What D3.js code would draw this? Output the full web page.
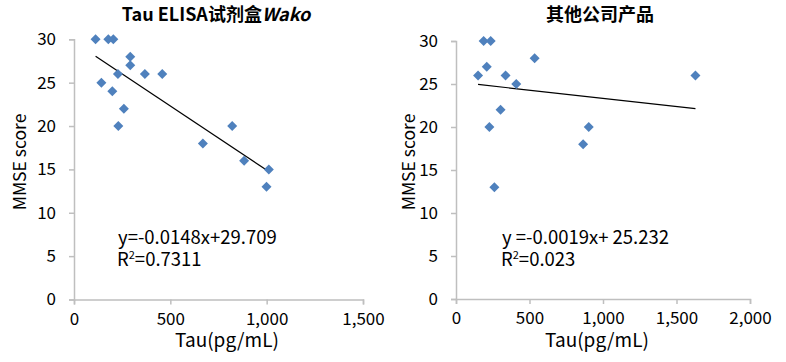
<!DOCTYPE html>
<html>
<head>
<meta charset="utf-8">
<script src="https://cdn.jsdelivr.net/npm/d3@7"></script>
<style>
  body { margin: 0; background: #fff; }
  svg { font-family: "Noto Sans CJK SC", "Noto Sans", sans-serif; }
  .tick text { font-size: 17px; fill: #000; }
  .axis-label { font-size: 19px; fill: #000; }
  .y-label { font-size: 17.5px; fill: #000; }
  .eq { font-size: 18.5px; fill: #000; }
  .title { font-size: 18px; font-weight: bold; fill: #000; }
</style>
</head>
<body>
<svg width="786" height="362"></svg>
<script>
  // left panel: Tau ELISA kit Wako
  const leftTau  = [112, 178, 204, 142, 199, 228, 292, 292, 259, 230, 368, 458, 669, 821, 883, 1011, 999];
  const leftMmse = [30, 30, 30, 25, 24, 26, 28, 27, 22, 20, 26, 26, 18, 20, 16, 15, 13];
  const leftXTicks = [0, 500, 1000, 1500];

  // right panel: other companies
  const rightTau  = [150, 188, 236, 209, 227, 303, 337, 410, 535, 261, 865, 903, 1629];
  const rightMmse = [26, 30, 30, 27, 20, 22, 26, 25, 28, 13, 18, 20, 26];
  const rightXTicks = [0, 500, 1000, 1500, 2000];

  const yTicks = [0, 5, 10, 15, 20, 25, 30];

  const svg = d3.select('svg');
  const axisColor = '#bfbfbf';
  const markColor = '#4f81bd';

  const drawPanel = p => {
    const xScale = d3.scaleLinear()
      .domain([0, p.xMax])
      .range([p.left, p.right]);
    const yScale = d3.scaleLinear()
      .domain([0, 30])
      .range([p.bottom, p.top]);

    const g = svg.append('g');

    const xAxisG = g.append('g')
      .attr('transform', `translate(0, ${p.bottom})`)
      .call(d3.axisBottom(xScale)
        .tickValues(p.xTicks)
        .tickFormat(d3.format(','))
        .tickSizeOuter(0)
        .tickSize(5)
        .tickPadding(8));

    const yAxisG = g.append('g')
      .attr('transform', `translate(${p.left}, 0)`)
      .call(d3.axisLeft(yScale)
        .tickValues(yTicks)
        .tickSizeOuter(0)
        .tickSize(5)
        .tickPadding(13));

    [xAxisG, yAxisG].forEach(a => {
      a.selectAll('.domain').attr('stroke', axisColor).attr('stroke-width', 1.5);
      a.selectAll('.tick line').attr('stroke', axisColor).attr('stroke-width', 1.5);
      a.attr('font-family', null).attr('font-size', null);
    });

    // trend line from the printed equation
    const ext = d3.extent(p.xs);
    const line = d3.line()
      .x(d => xScale(d))
      .y(d => yScale(p.intercept + p.slope * d));
    g.append('path')
      .datum(ext)
      .attr('d', line)
      .attr('fill', 'none')
      .attr('stroke', '#000')
      .attr('stroke-width', 1.2);

    g.selectAll('path.pt').data(p.xs.map((x, i) => [x, p.ys[i]]))
      .enter().append('path')
        .attr('class', 'pt')
        .attr('d', d3.symbol(d3.symbolSquare, 50)())
        .attr('transform', d => `translate(${xScale(d[0])}, ${yScale(d[1])}) rotate(45)`)
        .attr('fill', markColor);

    g.append('text')
      .attr('class', 'title')
      .attr('x', p.titleX)
      .attr('y', 21)
      .attr('text-anchor', 'middle')
      .call(t => {
        t.append('tspan').text(p.title);
        if (p.titleItalic) t.append('tspan').attr('font-style', 'italic').text(p.titleItalic);
      });

    g.append('text')
      .attr('class', 'axis-label')
      .attr('x', p.xLabelX)
      .attr('y', 347)
      .attr('text-anchor', 'middle')
      .text('Tau(pg/mL)');

    g.append('text')
      .attr('class', 'y-label')
      .attr('transform', `translate(${p.yLabelX}, 162) rotate(-90)`)
      .attr('text-anchor', 'middle')
      .text('MMSE score');

    g.append('text')
      .attr('class', 'eq')
      .attr('x', p.eqX)
      .attr('y', 244)
      .text(p.eqText);

    const r2 = g.append('text')
      .attr('class', 'eq')
      .attr('x', p.eqX - 1)
      .attr('y', 266);
    r2.append('tspan').text('R');
    r2.append('tspan').attr('font-size', '11px').attr('dy', -7).text('2');
    r2.append('tspan').attr('dy', 7).text('=' + p.r2);
  };

  drawPanel({
    xs: leftTau, ys: leftMmse, xTicks: leftXTicks, xMax: 1500,
    left: 74, right: 363, top: 39.3, bottom: 299.5,
    slope: -0.0148, intercept: 29.709,
    title: 'Tau ELISA试剂盒', titleItalic: 'Wako', titleX: 216,
    xLabelX: 227, yLabelX: 26,
    eqX: 118, eqText: 'y=-0.0148x+29.709', r2: '0.7311'
  });

  drawPanel({
    xs: rightTau, ys: rightMmse, xTicks: rightXTicks, xMax: 2000,
    left: 456, right: 750, top: 41, bottom: 299,
    slope: -0.0019, intercept: 25.232,
    title: '其他公司产品', titleItalic: null, titleX: 600,
    xLabelX: 597, yLabelX: 415,
    eqX: 502, eqText: 'y =-0.0019x+ 25.232', r2: '0.023'
  });
</script>
</body>
</html>
